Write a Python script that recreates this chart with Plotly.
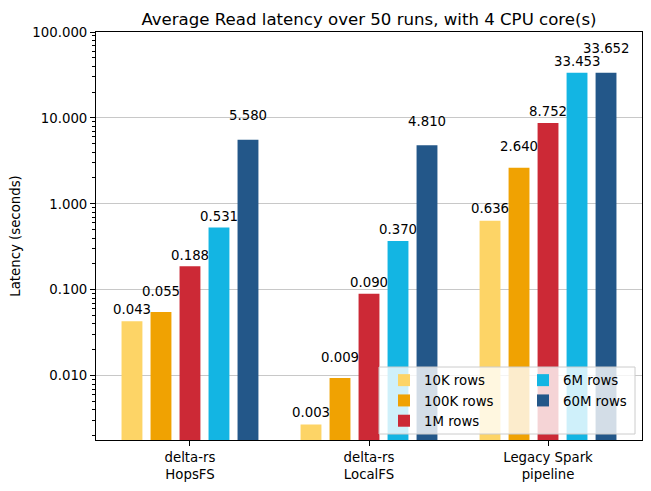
import math
import plotly.graph_objects as go

categories = ["delta-rs<br>HopsFS", "delta-rs<br>LocalFS", "Legacy Spark<br>pipeline"]
series_names = ["10K rows", "100K rows", "1M rows", "6M rows", "60M rows"]
values_10k = [0.043, 0.0027, 0.636]
values_100k = [0.055, 0.0094, 2.640]
values_1m = [0.188, 0.090, 8.752]
values_6m = [0.531, 0.370, 33.453]
values_60m = [5.580, 4.810, 33.652]
y_tick_vals = [0.01, 0.1, 1, 10, 100]
y_tick_text = ["0.010", "0.100", "1.000", "10.000", "100.000"]

series_values = [values_10k, values_100k, values_1m, values_6m, values_60m]
colors = ["#FDD466", "#F0A202", "#CC2936", "#13B5E3", "#235789"]
legend_ids = ["legend", "legend", "legend", "legend2", "legend2"]
label_shift = [12, 21, 11, 11, 24]

FONT = "DejaVu Sans"
W, H = 651, 491
ML, MR, MT, MB = 96, 9, 32, 51
PW, PH = W - ML - MR, H - MT - MB


def px_x(px):
    return (px - ML) / PW


def px_y(py):
    return (H - MB - py) / PH


bargap = 0.19
step = (1 - bargap) / len(series_names)

fig = go.Figure()
for i, (name, vals) in enumerate(zip(series_names, series_values)):
    fig.add_trace(go.Bar(
        x=categories, y=vals, name=name,
        marker=dict(color=colors[i], line=dict(width=0)),
        legend=legend_ids[i],
    ))
    for g, v in enumerate(vals):
        fig.add_annotation(
            x=g + (i - 2) * step, y=math.log10(v), xref="x", yref="y",
            text=f"{v:.3f}", showarrow=False, yanchor="middle",
            yshift=label_shift[i],
            font=dict(family=FONT, size=13.3, color="black"),
        )

minor_vals = [m * 10 ** e for e in range(-3, 2) for m in range(2, 10)]

legend_common = dict(
    orientation="v", bgcolor="rgba(0,0,0,0)", borderwidth=0,
    font=dict(family=FONT, size=13.3, color="black"),
    traceorder="normal", itemclick=False, yanchor="top", xanchor="left",
)

fig.add_shape(
    type="rect", xref="paper", yref="paper",
    x0=px_x(379), x1=px_x(635), y0=px_y(434), y1=px_y(367),
    fillcolor="rgba(255,255,255,0.8)", line=dict(color="#cccccc", width=1),
    layer="above",
)

fig.update_layout(
    width=W, height=H,
    margin=dict(l=ML, r=MR, t=MT, b=MB),
    paper_bgcolor="white", plot_bgcolor="white",
    barmode="group", bargap=bargap, bargroupgap=0.28,
    font=dict(family=FONT, size=13.3, color="black"),
    title=dict(text="Average Read latency over 50 runs, with 4 CPU core(s)",
               x=(ML + W - MR) / 2 / W, xanchor="center", y=1 - 19 / H, yanchor="middle",
               font=dict(family=FONT, size=16.6, color="black")),
    legend=dict(x=px_x(384), y=px_y(365), **legend_common),
    legend2=dict(x=px_x(523), y=px_y(365), **legend_common),
    showlegend=True,
)
fig.update_xaxes(
    type="category", range=[-0.525, 2.525],
    showline=True, mirror=True, linecolor="black", linewidth=1,
    ticks="outside", ticklen=5, tickcolor="black", showgrid=False,
    tickfont=dict(family=FONT, size=13.3, color="black"),
)
fig.update_yaxes(
    type="log", range=[math.log10(0.001786), 2],
    tickvals=y_tick_vals, ticktext=y_tick_text,
    showline=True, mirror=True, linecolor="black", linewidth=1,
    ticks="outside", ticklen=5, tickcolor="black",
    showgrid=True, gridcolor="#c8c8c8", gridwidth=1,
    minor=dict(tickvals=minor_vals, ticks="outside", ticklen=3, tickcolor="black", showgrid=False),
    title=dict(text="Latency (seconds)", font=dict(family=FONT, size=13.3, color="black"), standoff=8),
    tickfont=dict(family=FONT, size=13.3, color="black"),
    zeroline=False,
)

fig.write_html("out.html")
